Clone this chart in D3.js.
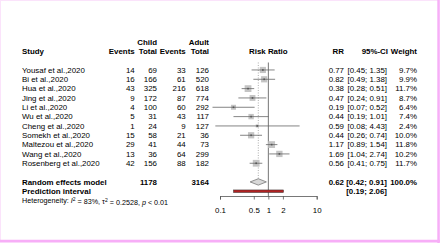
<!DOCTYPE html>
<html><head><meta charset="utf-8">
<script src="https://cdn.jsdelivr.net/npm/d3@7"></script>
<style>
html,body{margin:0;padding:0;background:#fff;}
svg{display:block;}
text{font-family:"Liberation Sans",Arial,sans-serif;font-size:7.9px;fill:#000;}
.b{font-weight:bold;}
</style></head><body>
<script>
const studies = ["Yousaf et al.,2020","Bi et al.,2020","Hua et al.,2020","Jing et al.,2020","Li et al.,2020","Wu et al.,2020","Cheng et al.,2020","Somekh et al.,2020","Maltezou et al.,2020","Wang et al.,2020","Rosenberg et al.,2020"];
const childEvents = [14,16,43,9,4,5,1,15,29,13,42];
const childTotal = [69,166,325,172,100,31,24,58,41,36,156];
const adultEvents = [33,61,216,87,60,43,9,21,44,64,88];
const adultTotal = [126,520,618,774,292,117,127,36,73,299,182];
const rr = [0.77,0.82,0.38,0.47,0.19,0.44,0.59,0.44,1.17,1.69,0.56];
const lower = [0.45,0.49,0.28,0.24,0.07,0.19,0.08,0.26,0.89,1.04,0.41];
const upper = [1.35,1.38,0.51,0.91,0.52,1.01,4.43,0.74,1.54,2.74,0.75];
const weight = [9.7,9.9,11.7,8.7,6.4,7.4,2.4,10.0,11.8,10.2,11.7];
const pooled = {rr:0.62, lo:0.42, hi:0.91, childTotal:1178, adultTotal:3164, weight:"100.0%"};
const predInt = {lo:0.19, hi:2.06};
const tickVals = [0.1,0.5,1,2,10];

const W=440,H=243;
const svg=d3.select("body").append("svg").attr("width",W).attr("height",H);

// frame
svg.append("rect").attr("x",0.5).attr("y",0.5).attr("width",W-1).attr("height",H-1).attr("fill","none").attr("stroke","#fbe3fb").attr("stroke-width",1);
svg.append("line").attr("x1",0).attr("x2",W).attr("y1",H-2).attr("y2",H-2).attr("stroke","#f7aef7").attr("stroke-width",2.4);
svg.append("line").attr("x1",W-1.5).attr("x2",W-1.5).attr("y1",0).attr("y2",H).attr("stroke","#f7aef7").attr("stroke-width",2.4);

const x=d3.scaleLog().domain([0.1,10]).range([220,316.7]);
const row=d3.scaleLinear().domain([0,1]).range([51.3,60.63]);
const fmt2=d3.format(".2f");

function txt(xp,yp,s,anchor,cls){
  return svg.append("text").attr("x",xp).attr("y",yp).attr("dy","0.35em").attr("text-anchor",anchor||"start").attr("class",cls||null).text(s);
}
// headers
txt(157,row(-1),"Child","end","b");
txt(209,row(-1),"Adult","end","b");
txt(22,row(0),"Study","start","b");
txt(134.7,row(0),"Events","end","b");
txt(157,row(0),"Total","end","b");
txt(185.7,row(0),"Events","end","b");
txt(209,row(0),"Total","end","b");
txt(x(1),row(0),"Risk Ratio","middle","b");
txt(344,row(0),"RR","end","b");
txt(388,row(0),"95%-CI","end","b");
txt(417,row(0),"Weight","end","b");

// reference lines
svg.append("line").attr("x1",x(pooled.rr)).attr("x2",x(pooled.rr)).attr("y1",row(1.2)).attr("y2",row(14)-3)
  .attr("stroke","#999").attr("stroke-width",0.8).attr("stroke-dasharray","1,1.5");
svg.append("line").attr("x1",x(1)).attr("x2",x(1)).attr("y1",row(1.2)).attr("y2",196)
  .attr("stroke","#666").attr("stroke-width",0.9);

const boxScale=d3.scaleSqrt().domain([0,11.8]).range([0,6.8]);
studies.forEach((s,i)=>{
  const y=row(i+2);
  txt(22,y,s);
  txt(134.7,y,childEvents[i],"end");
  txt(157,y,childTotal[i],"end");
  txt(185.7,y,adultEvents[i],"end");
  txt(209,y,adultTotal[i],"end");
  txt(344,y,fmt2(rr[i]),"end");
  txt(387,y,"["+fmt2(lower[i])+"; "+fmt2(upper[i])+"]","end");
  txt(417,y,weight[i].toFixed(1)+"%","end");
  const bs=boxScale(weight[i]);
  svg.append("rect").attr("x",x(rr[i])-bs/2).attr("y",y-bs/2).attr("width",bs).attr("height",bs).attr("fill","#c4c4c4");
  svg.append("line").attr("x1",x(lower[i])).attr("x2",x(upper[i])).attr("y1",y).attr("y2",y).attr("stroke","#666").attr("stroke-width",0.8);
  svg.append("rect").attr("x",x(rr[i])-0.8).attr("y",y-0.8).attr("width",1.6).attr("height",1.6).attr("fill","#555");
});

// pooled
const yp=row(14);
txt(22,yp,"Random effects model","start","b");
txt(157,yp,pooled.childTotal,"end","b");
txt(209,yp,pooled.adultTotal,"end","b");
txt(344,yp,fmt2(pooled.rr),"end","b");
txt(387,yp,"["+fmt2(pooled.lo)+"; "+fmt2(pooled.hi)+"]","end","b");
txt(417,yp,pooled.weight,"end","b");
const dh=3.2;
svg.append("path").attr("d",`M${x(pooled.lo)},${yp}L${x(pooled.rr)},${yp-dh}L${x(pooled.hi)},${yp}L${x(pooled.rr)},${yp+dh}Z`)
  .attr("fill","#d8d8d8").attr("stroke","#777").attr("stroke-width",0.8);

const yq=row(15);
txt(22,yq,"Prediction interval","start","b");
txt(387,yq,"["+fmt2(predInt.lo)+"; "+fmt2(predInt.hi)+"]","end","b");
svg.append("rect").attr("x",x(predInt.lo)).attr("y",yq-1.3).attr("width",x(predInt.hi)-x(predInt.lo)).attr("height",2.6)
  .attr("fill","#b22222").attr("stroke","#333").attr("stroke-width",0.5);

// heterogeneity
const ht=svg.append("text").attr("x",22).attr("y",row(16)).attr("dy","0.35em").style("font-size","7.2px");
ht.append("tspan").text("Heterogeneity: ");
ht.append("tspan").attr("font-style","italic").text("I");
ht.append("tspan").attr("dy","-0.4em").style("font-size","5px").text("2");
ht.append("tspan").attr("dy","0.4em").text(" = 83%, \u03c4");
ht.append("tspan").attr("dy","-0.4em").style("font-size","5px").text("2");
ht.append("tspan").attr("dy","0.4em").text(" = 0.2528, ");
ht.append("tspan").attr("font-style","italic").text("p");
ht.append("tspan").text(" < 0.01");

// axis
const ax=svg.append("g").attr("transform","translate(0,196)")
  .call(d3.axisBottom(x).tickValues(tickVals).tickFormat(d=>String(d)).tickSizeOuter(0).tickSize(3.5).tickPadding(8));
ax.select(".domain").attr("stroke","#555").attr("stroke-width",0.8);
ax.selectAll(".tick line").attr("stroke","#555").attr("stroke-width",0.8);
ax.selectAll(".tick text").attr("font-family",null).attr("font-size",null).style("font-size","7.9px").attr("fill","#000");
</script>
</body></html>
